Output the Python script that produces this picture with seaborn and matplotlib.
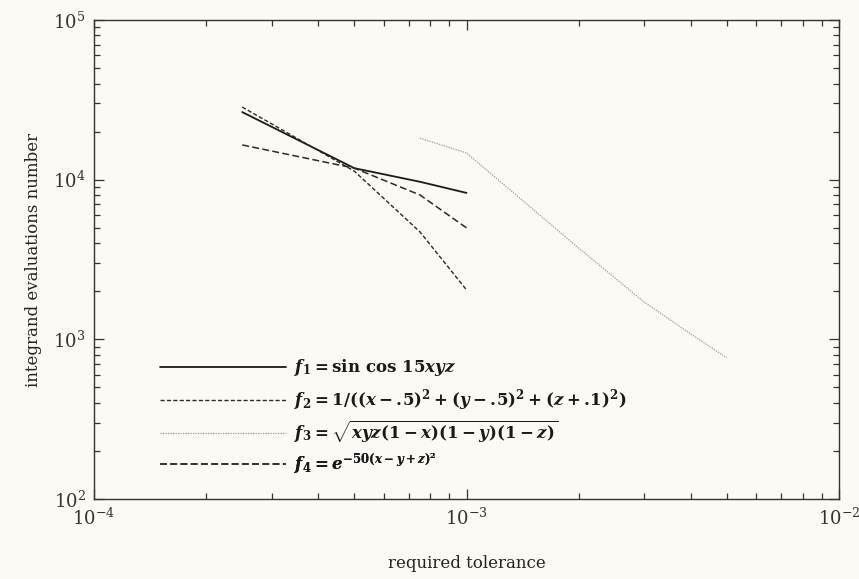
import numpy as np
import pandas as pd
import matplotlib
matplotlib.use("Agg")
import matplotlib.pyplot as plt
from matplotlib.ticker import LogLocator, NullFormatter
import seaborn as sns

# required tolerance for each integrand run
tol_f1 = [2.5e-4, 5e-4, 7.5e-4, 1e-3]
tol_f2 = [2.5e-4, 5e-4, 7.5e-4, 1e-3]
tol_f3 = [7.5e-4, 1e-3, 2e-3, 3e-3, 4e-3, 5e-3]
tol_f4 = [2.5e-4, 5e-4, 7.5e-4, 1e-3]

# integrand evaluations needed
evals_f1 = [26500, 11800, 9700, 8260]
evals_f2 = [28500, 11300, 4710, 2040]
evals_f3 = [18200, 14700, 3730, 1710, 1080, 765]
evals_f4 = [16500, 11800, 8020, 4990]

labels = [
    r"$f_1 = \sin\,\cos\,15xyz$",
    r"$f_2 = 1/((x-.\!5)^2+(y-.\!5)^2+(z+.\!1)^2)$",
    r"$f_3 = \sqrt{xyz(1-x)(1-y)(1-z)}$",
    r"$f_4 = e^{-50(x-y+z)^2}$",
]

sns.set_theme(style="ticks")
paper = "#fcfaf4"
plt.rcParams.update({
    "font.family": ["DejaVu Serif"],
    "mathtext.fontset": "dejavuserif",
    "mathtext.rm": "DejaVu Serif:bold",
    "mathtext.it": "DejaVu Serif:italic:bold",
    "mathtext.bf": "DejaVu Serif:bold",
    "axes.edgecolor": "#333333",
    "axes.linewidth": 1.0,
    "xtick.color": "#333333",
    "ytick.color": "#333333",
})

fig = plt.figure(figsize=(8.59, 5.79), dpi=100, facecolor=paper)
ax = fig.add_axes([94 / 859, 1 - 499 / 579, 745 / 859, 479 / 579])
ax.set_facecolor(paper)

series = [
    (tol_f1, evals_f1, dict(color="#1a1a1a", lw=1.3, linestyle="-")),
    (tol_f2, evals_f2, dict(color="#2a2a2a", lw=1.0, linestyle=(0, (3, 1.6)))),
    (tol_f3, evals_f3, dict(color="#9a9a9a", lw=0.9, linestyle=(0, (1, 1)))),
    (tol_f4, evals_f4, dict(color="#2a2a2a", lw=1.1, linestyle=(0, (4.5, 2.2)))),
]
for (tx, ev, style), lab in zip(series, labels):
    df = pd.DataFrame({"tol": tx, "evals": ev})
    sns.lineplot(data=df, x="tol", y="evals", ax=ax, label=lab,
                 sort=False, **style)

ax.set_xscale("log")
ax.set_yscale("log")
ax.set_xlim(1e-4, 1e-2)
ax.set_ylim(1e2, 1e5)

ax.xaxis.set_major_locator(LogLocator(base=10, numticks=10))
ax.yaxis.set_major_locator(LogLocator(base=10, numticks=10))
ax.xaxis.set_minor_locator(LogLocator(base=10, subs=np.arange(2, 10), numticks=20))
ax.yaxis.set_minor_locator(LogLocator(base=10, subs=np.arange(2, 10), numticks=20))
ax.xaxis.set_minor_formatter(NullFormatter())
ax.yaxis.set_minor_formatter(NullFormatter())

ax.tick_params(which="both", direction="in", top=True, right=True, width=0.9)
ax.tick_params(which="major", length=7, labelsize=13, pad=6)
ax.tick_params(which="minor", length=4)
for spine in ax.spines.values():
    spine.set_visible(True)

ax.set_xlabel("required tolerance", fontsize=12, labelpad=19, color="#222222")
ax.set_ylabel("integrand evaluations number", fontsize=12, labelpad=8, color="#222222")

# one legend row per integrand, evenly spaced
handles, labs = ax.get_legend_handles_labels()
ax.get_legend().remove()
row_y = [0.2735, 0.2067, 0.1399, 0.0731]
for h, lab, yy in zip(handles, labs, row_y):
    leg = ax.legend([h], [lab], loc="center left", bbox_to_anchor=(0.088, yy),
                    frameon=False, fontsize=12, handlelength=7.6,
                    handletextpad=0.45, borderpad=0, borderaxespad=0)
    for txt in leg.get_texts():
        txt.set_math_fontfamily("custom")
        txt.set_color("#1a1a1a")
    ax.add_artist(leg)

fig.savefig("out.png", dpi=100, facecolor=paper)
